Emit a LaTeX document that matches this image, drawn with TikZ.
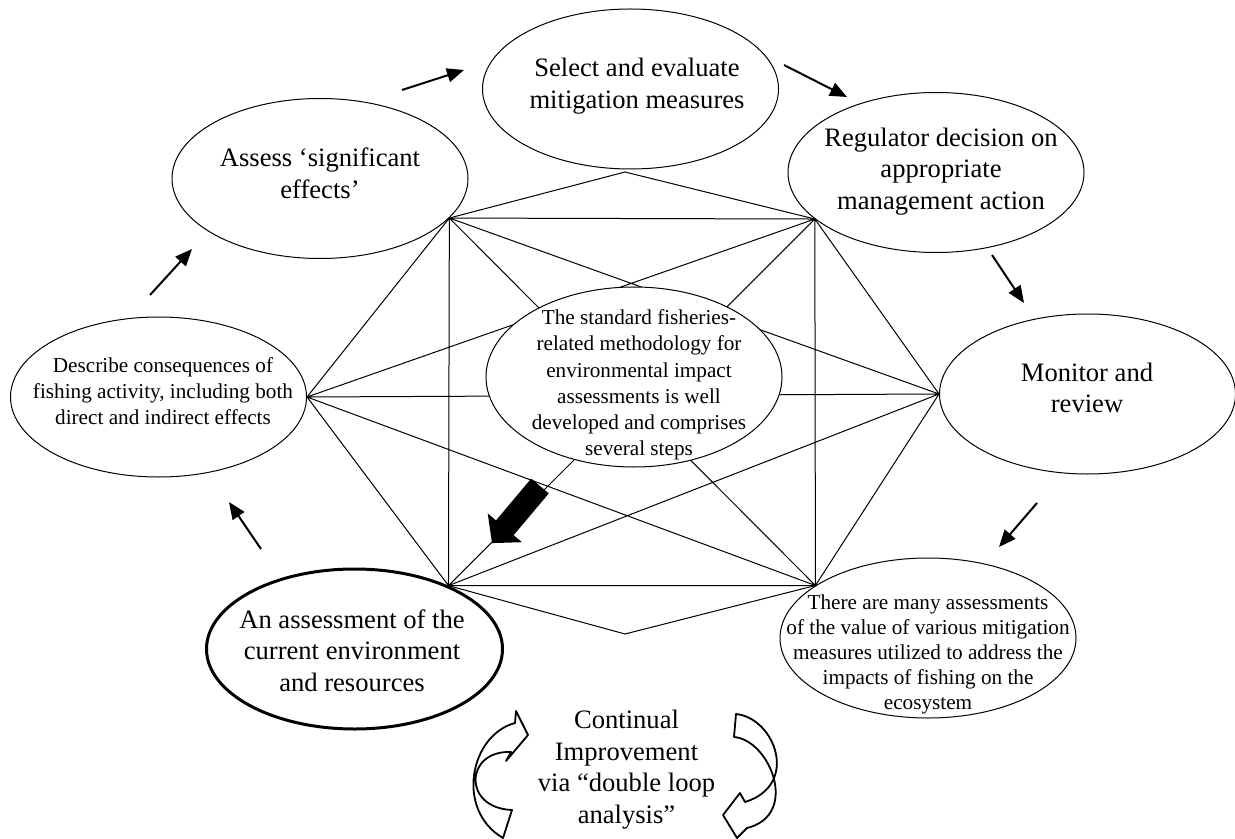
\documentclass[tikz,border=0pt]{standalone}
\usepackage{fontspec}
\setmainfont{Liberation Serif}
\usetikzlibrary{shapes.geometric,arrows.meta}
\begin{document}
\begin{tikzpicture}[x=0.5pt,y=-0.5pt,
  oval/.style={draw, ellipse, fill=white, line width=0.5pt, inner sep=0pt,
               minimum width=148pt, minimum height=80pt},
  bigtxt/.style={align=center, font=\fontsize{13.3}{15.8}\selectfont, inner sep=0pt},
  smalltxt/.style={align=center, font=\fontsize{10.6}{13.1}\selectfont, inner sep=0pt},
  web/.style={line width=0.5pt},
  flow/.style={line width=1pt, -{Triangle[length=8.5pt,width=7pt]}},
  block/.style={draw, fill=white, line width=0.9pt, line join=round},
]
\useasboundingbox (0,0) rectangle (1235,839);

% the process steps around the cycle
\node[oval] (sel)    at (630.5,89)  {};
\node[oval] (assess) at (320,178.5) {};
\node[oval] (desc)   at (158.5,397) {};
\node[oval] (reg)    at (936,172.5) {};
\node[oval] (mon)    at (1087.5,394) {};
\node[oval] (many)   at (928,638)   {};
\node[oval, line width=1.5pt] (asmt) at (354.5,649) {};

% corners of the connecting web
\coordinate (tl) at (assess.-17);
\coordinate (tr) at (reg.201);
\coordinate (ml) at (desc.east);
\coordinate (mr) at (mon.west);
\coordinate (bl) at (asmt.34);
\coordinate (br) at (many.155);
\coordinate (dt) at (625,172);
\coordinate (db) at (625,634);

% every corner joined to every other one
\draw[web] (tl) -- (tr) (tl) -- (ml) (tl) -- (mr) (tl) -- (bl) (tl) -- (br)
           (tr) -- (ml) (tr) -- (mr) (tr) -- (bl) (tr) -- (br)
           (ml) -- (mr) (ml) -- (bl) (ml) -- (br)
           (mr) -- (bl) (mr) -- (br)
           (bl) -- (br);
\draw[web] (tl) -- (dt) -- (tr) (bl) -- (db) -- (br);

% central statement on top of the web
\node[oval, minimum height=90pt] (core) at (634,377) {};

% texts
\node[bigtxt] (selT) at (637,86) {Select and evaluate\\mitigation measures};
\node[bigtxt] (assessT) at (320,173) {Assess ‘significant\\effects’};
\node[smalltxt] (descT) at (163,391) {Describe consequences of\\fishing activity, including both\\direct and indirect effects};
\node[bigtxt] (regT) at (941,171.5) {Regulator decision on\\appropriate\\management action};
\node[bigtxt] (monT) at (1087,388) {Monitor and\\review};
\node[smalltxt] (coreT) at (639,385) {The standard fisheries-\\related methodology for\\environmental impact\\assessments is well\\developed and comprises\\several steps};
\node[smalltxt, font=\fontsize{10.6}{12.5}\selectfont] (manyT) at (928,654) {There are many assessments\\of the value of various mitigation\\measures utilized to address the\\impacts of fishing on the\\ecosystem};
\node[bigtxt] (asmtT) at (352,650.5) {An assessment of the\\current environment\\and resources};
\node[bigtxt] (ciT) at (626.5,769.5) {Continual\\Improvement\\via “double loop\\analysis”};

% arrows leading round the cycle
\coordinate (a1s) at (261,549);  \coordinate (a1e) at (229,502);
\coordinate (a2s) at (150,295);  \coordinate (a2e) at (192,249);
\coordinate (a3s) at (402,90);   \coordinate (a3e) at (464,70);
\coordinate (a4s) at (784,65);   \coordinate (a4e) at (847,97);
\coordinate (a5s) at (992,255);  \coordinate (a5e) at (1024,303);
\coordinate (a6s) at (1037,503); \coordinate (a6e) at (999,547);
\draw[flow] (a1s) -- (a1e);
\draw[flow] (a2s) -- (a2e);
\draw[flow] (a3s) -- (a3e);
\draw[flow] (a4s) -- (a4e);
\draw[flow] (a5s) -- (a5e);
\draw[flow] (a6s) -- (a6e);

% solid block arrow pointing to the starting step
\fill (531.2,478.6) -- (548.8,493.4) -- (513.6,535.2) -- (521.9,542.2)
      -- (492.0,543.1) -- (487.7,513.4) -- (496.0,520.4) -- cycle;

% twisted loop arrows round the improvement note
\draw[block] (512,810) -- (503,838) .. controls (455,810) and (470,735) .. (515,723)
      -- (516,711) -- (528,735) -- (506,761) -- (511,752)
      .. controls (465,750) and (462,808) .. (512,810) -- cycle;
\draw[block] (736,714) .. controls (775,718) and (800,785) .. (745,802)
      -- (740,793) -- (723,815) -- (737,838) -- (747,828)
      .. controls (800,815) and (770,740) .. (734,737) -- cycle;
\end{tikzpicture}
\end{document}
